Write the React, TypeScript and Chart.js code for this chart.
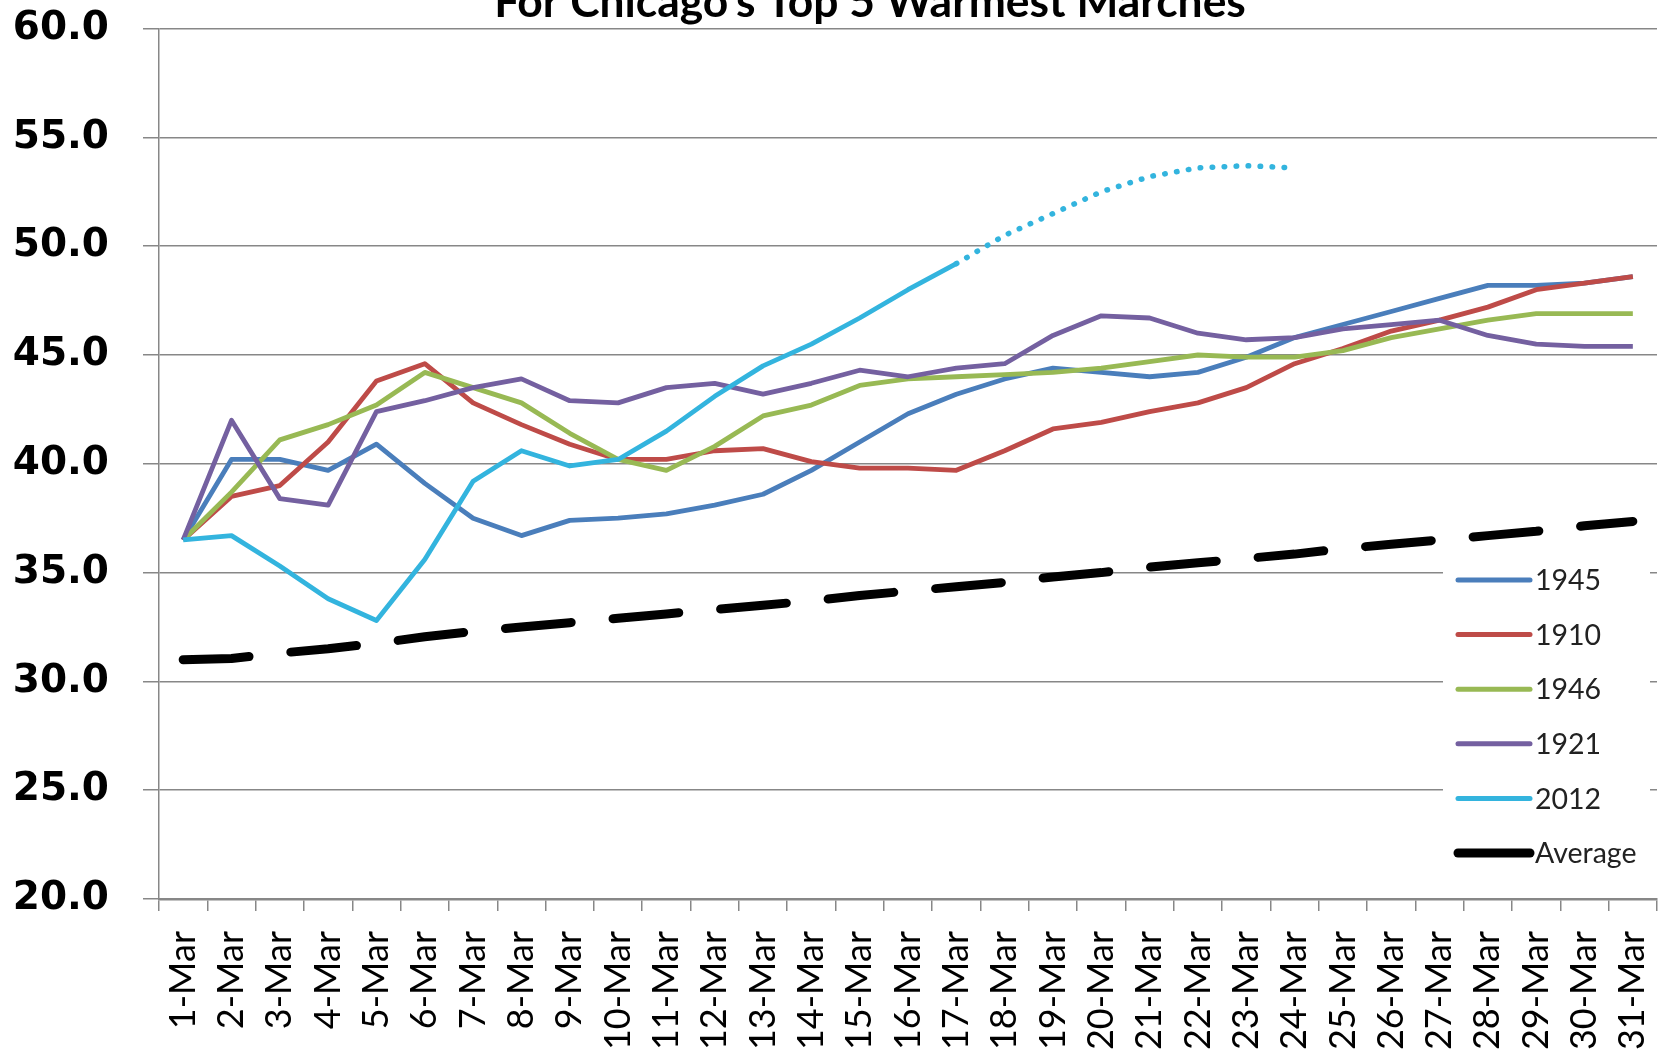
import React, { useEffect, useRef } from "react";
import { Chart, registerables } from "chart.js";

Chart.register(...registerables);

const days = [
  "1-Mar", "2-Mar", "3-Mar", "4-Mar", "5-Mar", "6-Mar", "7-Mar", "8-Mar", "9-Mar", "10-Mar",
  "11-Mar", "12-Mar", "13-Mar", "14-Mar", "15-Mar", "16-Mar", "17-Mar", "18-Mar", "19-Mar", "20-Mar",
  "21-Mar", "22-Mar", "23-Mar", "24-Mar", "25-Mar", "26-Mar", "27-Mar", "28-Mar", "29-Mar", "30-Mar", "31-Mar",
];

const y1945 = [36.5, 40.2, 40.2, 39.7, 40.9, 39.1, 37.5, 36.7, 37.4, 37.5, 37.7, 38.1, 38.6, 39.7, 41.0, 42.3, 43.2, 43.9, 44.4, 44.2, 44.0, 44.2, 44.9, 45.8, 46.4, 47.0, 47.6, 48.2, 48.2, 48.3, 48.6];
const y1910 = [36.5, 38.5, 39.0, 41.0, 43.8, 44.6, 42.8, 41.8, 40.9, 40.2, 40.2, 40.6, 40.7, 40.1, 39.8, 39.8, 39.7, 40.6, 41.6, 41.9, 42.4, 42.8, 43.5, 44.6, 45.3, 46.1, 46.6, 47.2, 48.0, 48.3, 48.6];
const y1946 = [36.5, 38.7, 41.1, 41.8, 42.7, 44.2, 43.5, 42.8, 41.4, 40.2, 39.7, 40.8, 42.2, 42.7, 43.6, 43.9, 44.0, 44.1, 44.2, 44.4, 44.7, 45.0, 44.9, 44.9, 45.2, 45.8, 46.2, 46.6, 46.9, 46.9, 46.9];
const y1921 = [36.5, 42.0, 38.4, 38.1, 42.4, 42.9, 43.5, 43.9, 42.9, 42.8, 43.5, 43.7, 43.2, 43.7, 44.3, 44.0, 44.4, 44.6, 45.9, 46.8, 46.7, 46.0, 45.7, 45.8, 46.2, 46.4, 46.6, 45.9, 45.5, 45.4, 45.4];
const y2012 = [36.5, 36.7, 35.3, 33.8, 32.8, 35.6, 39.2, 40.6, 39.9, 40.2, 41.5, 43.1, 44.5, 45.5, 46.7, 48.0, 49.2, 50.5, 51.5, 52.5, 53.2, 53.6, 53.7, 53.6, null, null, null, null, null, null, null];
const yAverage = [31.0, 31.05, 31.3, 31.5, 31.75, 32.05, 32.3, 32.5, 32.7, 32.9, 33.1, 33.3, 33.5, 33.7, 33.95, 34.15, 34.35, 34.55, 34.8, 35.0, 35.25, 35.45, 35.65, 35.85, 36.1, 36.3, 36.5, 36.7, 36.9, 37.15, 37.35];

const seriesLabels = ["1945", "1910", "1946", "1921", "2012", "Average"];
const seriesColors = ["#4A7EBB", "#BE4B48", "#98B954", "#7460A0", "#33B4DE", "#000000"];
const lastObservedIndex = 16; // 17-Mar: 2012 dotted afterwards (forecast)

const titleText = "For Chicago's Top 5 Warmest Marches";
const yMin = 20;
const yMax = 60;
const yStep = 5;

export default function App() {
  const ref = useRef<HTMLCanvasElement | null>(null);

  useEffect(() => {
    const canvas = ref.current;
    if (!canvas) return;

    const titlePlugin = {
      id: "clippedTitle",
      afterDraw(chart: any) {
        const ctx = chart.ctx;
        ctx.save();
        let size = 40;
        ctx.font = `bold ${size}px Lato, "Open Sans", sans-serif`;
        const w = ctx.measureText(titleText).width;
        size = (size * 752) / w;
        ctx.font = `bold ${size}px Lato, "Open Sans", sans-serif`;
        ctx.fillStyle = "#000";
        ctx.textAlign = "center";
        ctx.textBaseline = "alphabetic";
        ctx.fillText(titleText, 870, 17);
        ctx.restore();
      },
    };

    const legendPlugin = {
      id: "boxLegend",
      afterDraw(chart: any) {
        const ctx = chart.ctx;
        ctx.save();
        ctx.fillStyle = "#ffffff";
        ctx.fillRect(1443, 550, 207, 330);
        const x0 = 1458;
        const x1 = 1530;
        const yStart = 580;
        const gap = 54.6;
        chart.data.datasets.forEach((ds: any, i: number) => {
          const y = yStart + i * gap;
          ctx.beginPath();
          ctx.strokeStyle = ds.borderColor;
          ctx.lineWidth = i === 5 ? 9 : 5;
          ctx.lineCap = "round";
          ctx.moveTo(x0, y);
          ctx.lineTo(x1, y);
          ctx.stroke();
          ctx.fillStyle = "#222";
          ctx.font = `28.5px Lato, "Open Sans", sans-serif`;
          ctx.textAlign = "left";
          ctx.textBaseline = "middle";
          ctx.fillText(ds.label, 1535, y + 1);
        });
        ctx.restore();
      },
    };

    const values = [y1945, y1910, y1946, y1921, y2012, yAverage];

    const datasets = values.map((data, i) => {
      const base: any = {
        label: seriesLabels[i],
        data,
        borderColor: seriesColors[i],
        backgroundColor: seriesColors[i],
        borderWidth: 4.8,
        pointRadius: 0,
        pointHoverRadius: 0,
        tension: 0,
        fill: false,
        order: values.length - i,
        borderJoinStyle: "round",
      };
      if (seriesLabels[i] === "Average") {
        base.borderWidth = 9;
        base.borderDash = [66, 42];
        base.borderCapStyle = "round";
      }
      if (seriesLabels[i] === "2012") {
        base.segment = {
          borderDash: (c: any) => (c.p0DataIndex >= lastObservedIndex ? [0.5, 11.5] : undefined),
          borderCapStyle: (c: any) => (c.p0DataIndex >= lastObservedIndex ? "round" : "butt"),
          borderWidth: (c: any) => (c.p0DataIndex >= lastObservedIndex ? 5.5 : 4.8),
        };
      }
      return base;
    });

    const chart = new Chart(canvas, {
      type: "line",
      data: { labels: days, datasets },
      options: {
        responsive: false,
        animation: false,
        events: [],
        layout: { padding: { left: 0, top: 28.6, right: 6, bottom: 0 } },
        plugins: {
          legend: { display: false },
          title: { display: false },
          tooltip: { enabled: false },
        },
        scales: {
          x: {
            type: "category",
            offset: true,
            afterFit: (s: any) => {
              s.height = 1053 - 899;
              s.paddingLeft = 0;
              s.paddingRight = 0;
              s.paddingTop = 0;
              s.paddingBottom = 0;
            },
            grid: {
              offset: true,
              drawOnChartArea: false,
              drawTicks: true,
              tickLength: 12,
              color: "#878787",
              lineWidth: 1.5,
            },
            border: { display: true, color: "#878787", width: 2.5 },
            ticks: {
              autoSkip: false,
              minRotation: 90,
              maxRotation: 90,
              padding: 20,
              color: "#000",
              font: { family: "Lato, 'Open Sans', sans-serif", size: 36 },
            },
          },
          y: {
            min: yMin,
            max: yMax,
            afterFit: (s: any) => {
              s.width = 159;
              s.paddingTop = 0;
              s.paddingBottom = 0;
              s.paddingLeft = 0;
              s.paddingRight = 0;
            },
            grid: {
              color: "#878787",
              lineWidth: 1.5,
              drawTicks: true,
              tickLength: 16,
            },
            border: { display: true, color: "#878787", width: 1.5 },
            ticks: {
              stepSize: yStep,
              padding: 34,
              color: "#000",
              font: { family: "'DejaVu Sans', sans-serif", size: 39, weight: "bold" },
              callback: (v: any) => Number(v).toFixed(1),
            },
          },
        },
      },
      plugins: [titlePlugin, legendPlugin],
    } as any);

    return () => chart.destroy();
  }, []);

  return (
    <div
      style={{
        position: "absolute",
        left: 0,
        top: 0,
        width: 1663,
        height: 1053,
        overflow: "hidden",
        background: "#ffffff",
      }}
    >
      <canvas ref={ref} width={1663} height={1053} style={{ display: "block", width: 1663, height: 1053 }} />
    </div>
  );
}
